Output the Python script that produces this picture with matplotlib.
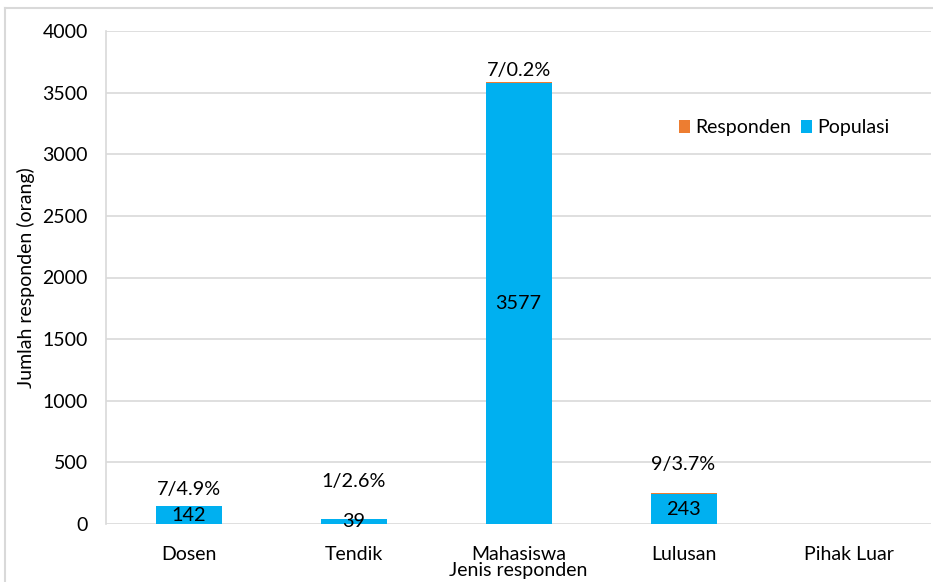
import matplotlib
matplotlib.use("Agg")
import matplotlib.pyplot as plt
from matplotlib.lines import Line2D
import numpy as np

categories = ["Dosen", "Tendik", "Mahasiswa", "Lulusan", "Pihak Luar"]
populasi = [142, 39, 3577, 243, 0]
responden = [7, 1, 7, 9, 0]
resp_labels = ["7/4.9%", "1/2.6%", "7/0.2%", "9/3.7%", ""]
y_ticks = [0, 500, 1000, 1500, 2000, 2500, 3000, 3500, 4000]

# label offsets (pixels above bar top, label centre) for responden labels
resp_offsets_px = [16, 38, 12, 28, 0]

plt.rcParams['font.family'] = ['Lato', 'DejaVu Sans']
BLUE = "#00B0F0"
ORANGE = "#ED7D31"
GRID = "#D9D9D9"
FS = 14
FSL = 14.3

fig = plt.figure(figsize=(9.33, 5.82), dpi=100)
ax = fig.add_axes([106/933, 1-524/582, (931-106)/933, (524-31)/582])

x = np.arange(len(categories))
w = 0.4
ax.bar(x, populasi, width=w, color=BLUE, label="Populasi", zorder=2)
ax.bar(x, responden, width=w, bottom=populasi, color=ORANGE, label="Responden", zorder=2)

for i, (p, r) in enumerate(zip(populasi, responden)):
    if p > 0:
        ax.text(x[i], p/2, str(p), ha="center", va="center", fontsize=FSL, color="#000000", zorder=3)
    if resp_labels[i]:
        ax.annotate(resp_labels[i], (x[i], p + r), xytext=(0, resp_offsets_px[i]*0.72),
                    textcoords="offset points", ha="center", va="center", fontsize=FSL)

ax.set_xlim(-0.5, len(categories) - 0.5)
ax.set_ylim(0, 4000)
ax.set_yticks(y_ticks)
ax.set_yticklabels([str(t) for t in y_ticks], fontsize=FS)
ax.set_xticks(x)
ax.set_xticklabels(categories, fontsize=FS)
ax.tick_params(axis="both", length=0, colors="#000000")
ax.tick_params(axis="y", pad=13)
ax.tick_params(axis="x", pad=16)
ax.grid(axis="y", color=GRID, linewidth=1.2, zorder=0)
for s in ["top", "right", "bottom"]:
    ax.spines[s].set_visible(False)
ax.spines["left"].set_color(GRID)
ax.spines["left"].set_linewidth(1.2)

ax.set_ylabel("Jumlah responden (orang)", fontsize=FS, labelpad=5)
ax.set_xlabel("Jenis responden", fontsize=FS, labelpad=-1)

h, l = ax.get_legend_handles_labels()
ax.legend([h[1], h[0]], [l[1], l[0]], ncol=2, frameon=False, fontsize=FS,
          loc="center", bbox_to_anchor=((784-106)/(931-106), (524-128)/(524-31)),
          handlelength=0.6, handleheight=0.6, handletextpad=0.25, columnspacing=0.5)

# outer chart border
fig.add_artist(Line2D([5/933, 5/933], [0, 1-8/582], color=GRID, linewidth=1.5, transform=fig.transFigure))
fig.add_artist(Line2D([5/933, 1], [1-8/582, 1-8/582], color=GRID, linewidth=1.5, transform=fig.transFigure))

fig.savefig("out.png", dpi=100)
